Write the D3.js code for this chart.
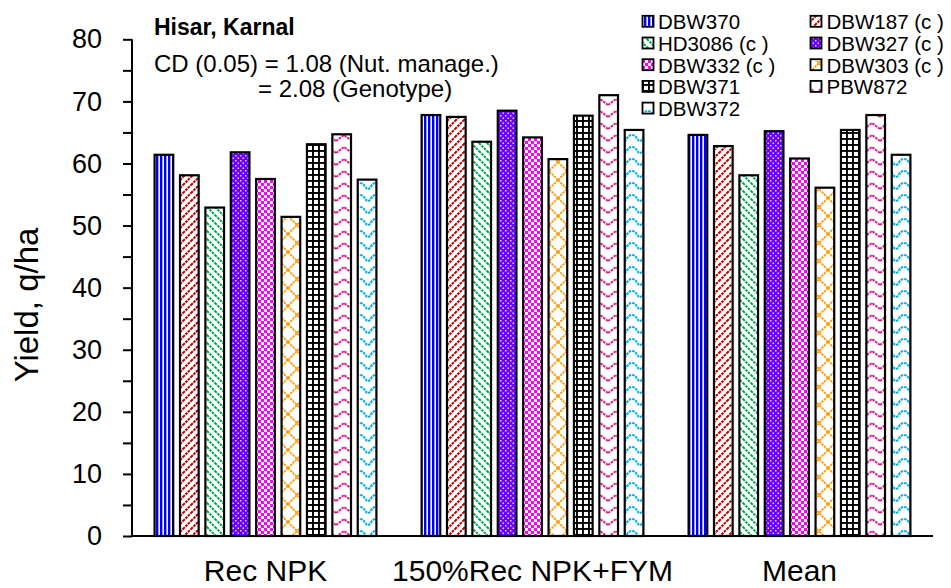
<!DOCTYPE html>
<html>
<head>
<meta charset="utf-8">
<script src="https://cdn.jsdelivr.net/npm/d3@7/dist/d3.min.js"></script>
<style>
  html, body { margin: 0; padding: 0; background: #fff; }
  svg { display: block; font-family: "Liberation Sans", Arial, sans-serif; }
</style>
</head>
<body>
<svg id="chart" width="951" height="588"></svg>
<script>
// Grain yield (q/ha) of wheat genotypes under two nutrient managements and their mean
const categories = ["Rec NPK", "150%Rec NPK+FYM", "Mean"];
const genotypes = ["DBW370", "DBW187 (c )", "HD3086 (c )", "DBW327 (c )", "DBW332 (c )",
                   "DBW303 (c )", "DBW371", "PBW872", "DBW372"];
const recNPK      = [61.4, 58.1, 52.9, 61.8, 57.5, 51.4, 63.1, 64.7, 57.4];
const recNPK150   = [67.8, 67.5, 63.5, 68.5, 64.2, 60.7, 67.7, 71.0, 65.4];
const meanYield   = [64.6, 62.8, 58.1, 65.2, 60.8, 56.1, 65.4, 67.8, 61.4];
const yTicks      = [0, 10, 20, 30, 40, 50, 60, 70, 80];
const yMinorTicks = [5, 15, 25, 35, 45, 55, 65, 75];

const seriesByCategory = [recNPK, recNPK150, meanYield];
const rows = [];
categories.forEach((c, ci) => {
  genotypes.forEach((g, gi) => rows.push({ category: c, genotype: g, gi, value: seriesByCategory[ci][gi] }));
});

const svg = d3.select("#chart");
const defs = svg.append("defs");

// ---- fill patterns, one per genotype ----
function pat(id, w, h, build) {
  const p = defs.append("pattern").attr("id", id)
    .attr("patternUnits", "userSpaceOnUse").attr("width", w).attr("height", h);
  p.append("rect").attr("width", w).attr("height", h).attr("fill", "#fff");
  build(p);
}
pat("p0", 4, 4, p => p.append("rect").attr("x", 0).attr("width", 2.4).attr("height", 4).attr("fill", "#0000ff"));
pat("p1", 8, 8, p => {
  p.append("path").attr("d", "M-1,9 L9,-1 M-1,1 L1,-1 M7,9 L9,7")
    .attr("stroke", "#c00000").attr("stroke-width", 2).attr("stroke-dasharray", "2.6,0.9").attr("fill", "none");
});
pat("p2", 8, 8, p => {
  p.append("path").attr("d", "M-1,-1 L9,9 M7,-1 L9,1 M-1,7 L1,9")
    .attr("stroke", "#00b050").attr("stroke-width", 2).attr("stroke-dasharray", "2.6,0.9").attr("fill", "none");
});
pat("p3", 5, 5, p => {
  p.append("rect").attr("width", 5).attr("height", 5).attr("fill", "#6a00ff");
  p.append("rect").attr("x", 0).attr("y", 0).attr("width", 1.5).attr("height", 1.5).attr("fill", "#fff").attr("opacity", 0.8);
  p.append("rect").attr("x", 2.5).attr("y", 2.5).attr("width", 1.5).attr("height", 1.5).attr("fill", "#fff").attr("opacity", 0.8);
});
pat("p4", 6, 6, p => {
  p.append("rect").attr("x", 0).attr("y", 0).attr("width", 3).attr("height", 3).attr("fill", "#ff00ff");
  p.append("rect").attr("x", 3).attr("y", 3).attr("width", 3).attr("height", 3).attr("fill", "#ff00ff");
});
pat("p5", 18, 18, p => {
  p.append("path").attr("d", "M0,0 L18,18 M18,0 L0,18")
    .attr("stroke", "#ff9900").attr("stroke-width", 1.8).attr("stroke-dasharray", "2.4,0.9").attr("fill", "none");
});
pat("p6", 6, 6, p => {
  p.append("rect").attr("x", 0).attr("y", 0).attr("width", 6).attr("height", 1.9).attr("fill", "#000");
  p.append("rect").attr("x", 0).attr("y", 0).attr("width", 1.9).attr("height", 6).attr("fill", "#000");
});
pat("p7", 16, 12, p => {
  p.append("path").attr("d", "M0,9 L8,3 L16,9")
    .attr("stroke", "#e0208c").attr("stroke-width", 2).attr("stroke-dasharray", "2.6,0.9").attr("fill", "none");
});
pat("p8", 16, 12, p => {
  p.append("path").attr("d", "M0,9 C3,9 3,3 8,3 C13,3 13,9 16,9")
    .attr("stroke", "#00b0f0").attr("stroke-width", 2).attr("stroke-dasharray", "2.6,0.9").attr("fill", "none");
});
const fillFor = i => `url(#p${i})`;

// ---- scales ----
const x0 = d3.scaleBand().domain(categories).range([132, 933]).padding(0);
const x1 = d3.scaleBand().domain(genotypes).range([22.6, 244.4]).paddingInner(0.265).paddingOuter(0);
const y = d3.scaleLinear().domain([0, 80]).range([536, 39.3]);

// ---- bars ----
svg.append("g").selectAll("rect").data(rows).join("rect")
  .attr("x", d => x0(d.category) + x1(d.genotype))
  .attr("y", d => y(d.value))
  .attr("width", x1.bandwidth())
  .attr("height", d => y(0) - y(d.value))
  .attr("fill", d => fillFor(d.gi))
  .attr("stroke", "#000").attr("stroke-width", 2.2);

// ---- y axis ----
const yAxis = svg.append("g").attr("transform", "translate(132,0)");
yAxis.call(d3.axisLeft(y).tickValues(yTicks.concat(yMinorTicks)).tickSize(9).tickPadding(21)
  .tickFormat(d => yTicks.includes(d) ? d : ""));
yAxis.select(".domain").attr("stroke", "#000").attr("stroke-width", 2).attr("d", `M0,${y(0)}V${y(80)}`);
yAxis.selectAll(".tick line").attr("stroke", "#000").attr("stroke-width", 2);
yAxis.selectAll(".tick text").attr("font-size", 27).attr("fill", "#000")
  .attr("font-family", "'Liberation Sans', Arial, sans-serif");

// ---- x axis ----
const xAxis = svg.append("g").attr("transform", `translate(0,${y(0)})`);
xAxis.call(d3.axisBottom(x0).tickSize(0).tickPadding(24));
xAxis.select(".domain").attr("stroke", "#000").attr("stroke-width", 2).attr("d", "M132,0H933");
xAxis.selectAll(".tick text").attr("font-size", 30).attr("fill", "#000")
  .attr("font-family", "'Liberation Sans', Arial, sans-serif").attr("dy", "0.71em");

// ---- axis title ----
svg.append("text").attr("transform", "translate(38,305) rotate(-90)")
  .attr("text-anchor", "middle").attr("font-size", 33).text("Yield, q/ha");

// ---- annotations ----
svg.append("text").attr("x", 154).attr("y", 35).attr("font-size", 23).attr("font-weight", "bold")
  .text("Hisar, Karnal");
svg.append("text").attr("x", 154).attr("y", 72).attr("font-size", 24)
  .text("CD (0.05) = 1.08 (Nut. manage.)");
svg.append("text").attr("x", 258).attr("y", 97).attr("font-size", 24)
  .text("= 2.08 (Genotype)");

// ---- legend ----
const legend = svg.append("g");
const legendCols = [642.5, 810.5];
const legendTextX = [658, 826.5];
genotypes.forEach((g, i) => {
  const col = i % 2, row = Math.floor(i / 2);
  const base = 29.3 + row * 21.7;
  legend.append("rect").attr("x", legendCols[col]).attr("y", base - 13.5)
    .attr("width", 11).attr("height", 11)
    .attr("fill", fillFor(i)).attr("stroke", "#000").attr("stroke-width", 1.8);
  legend.append("text").attr("x", legendTextX[col]).attr("y", base)
    .attr("font-size", 20.5).text(g);
});
</script>
</body>
</html>
